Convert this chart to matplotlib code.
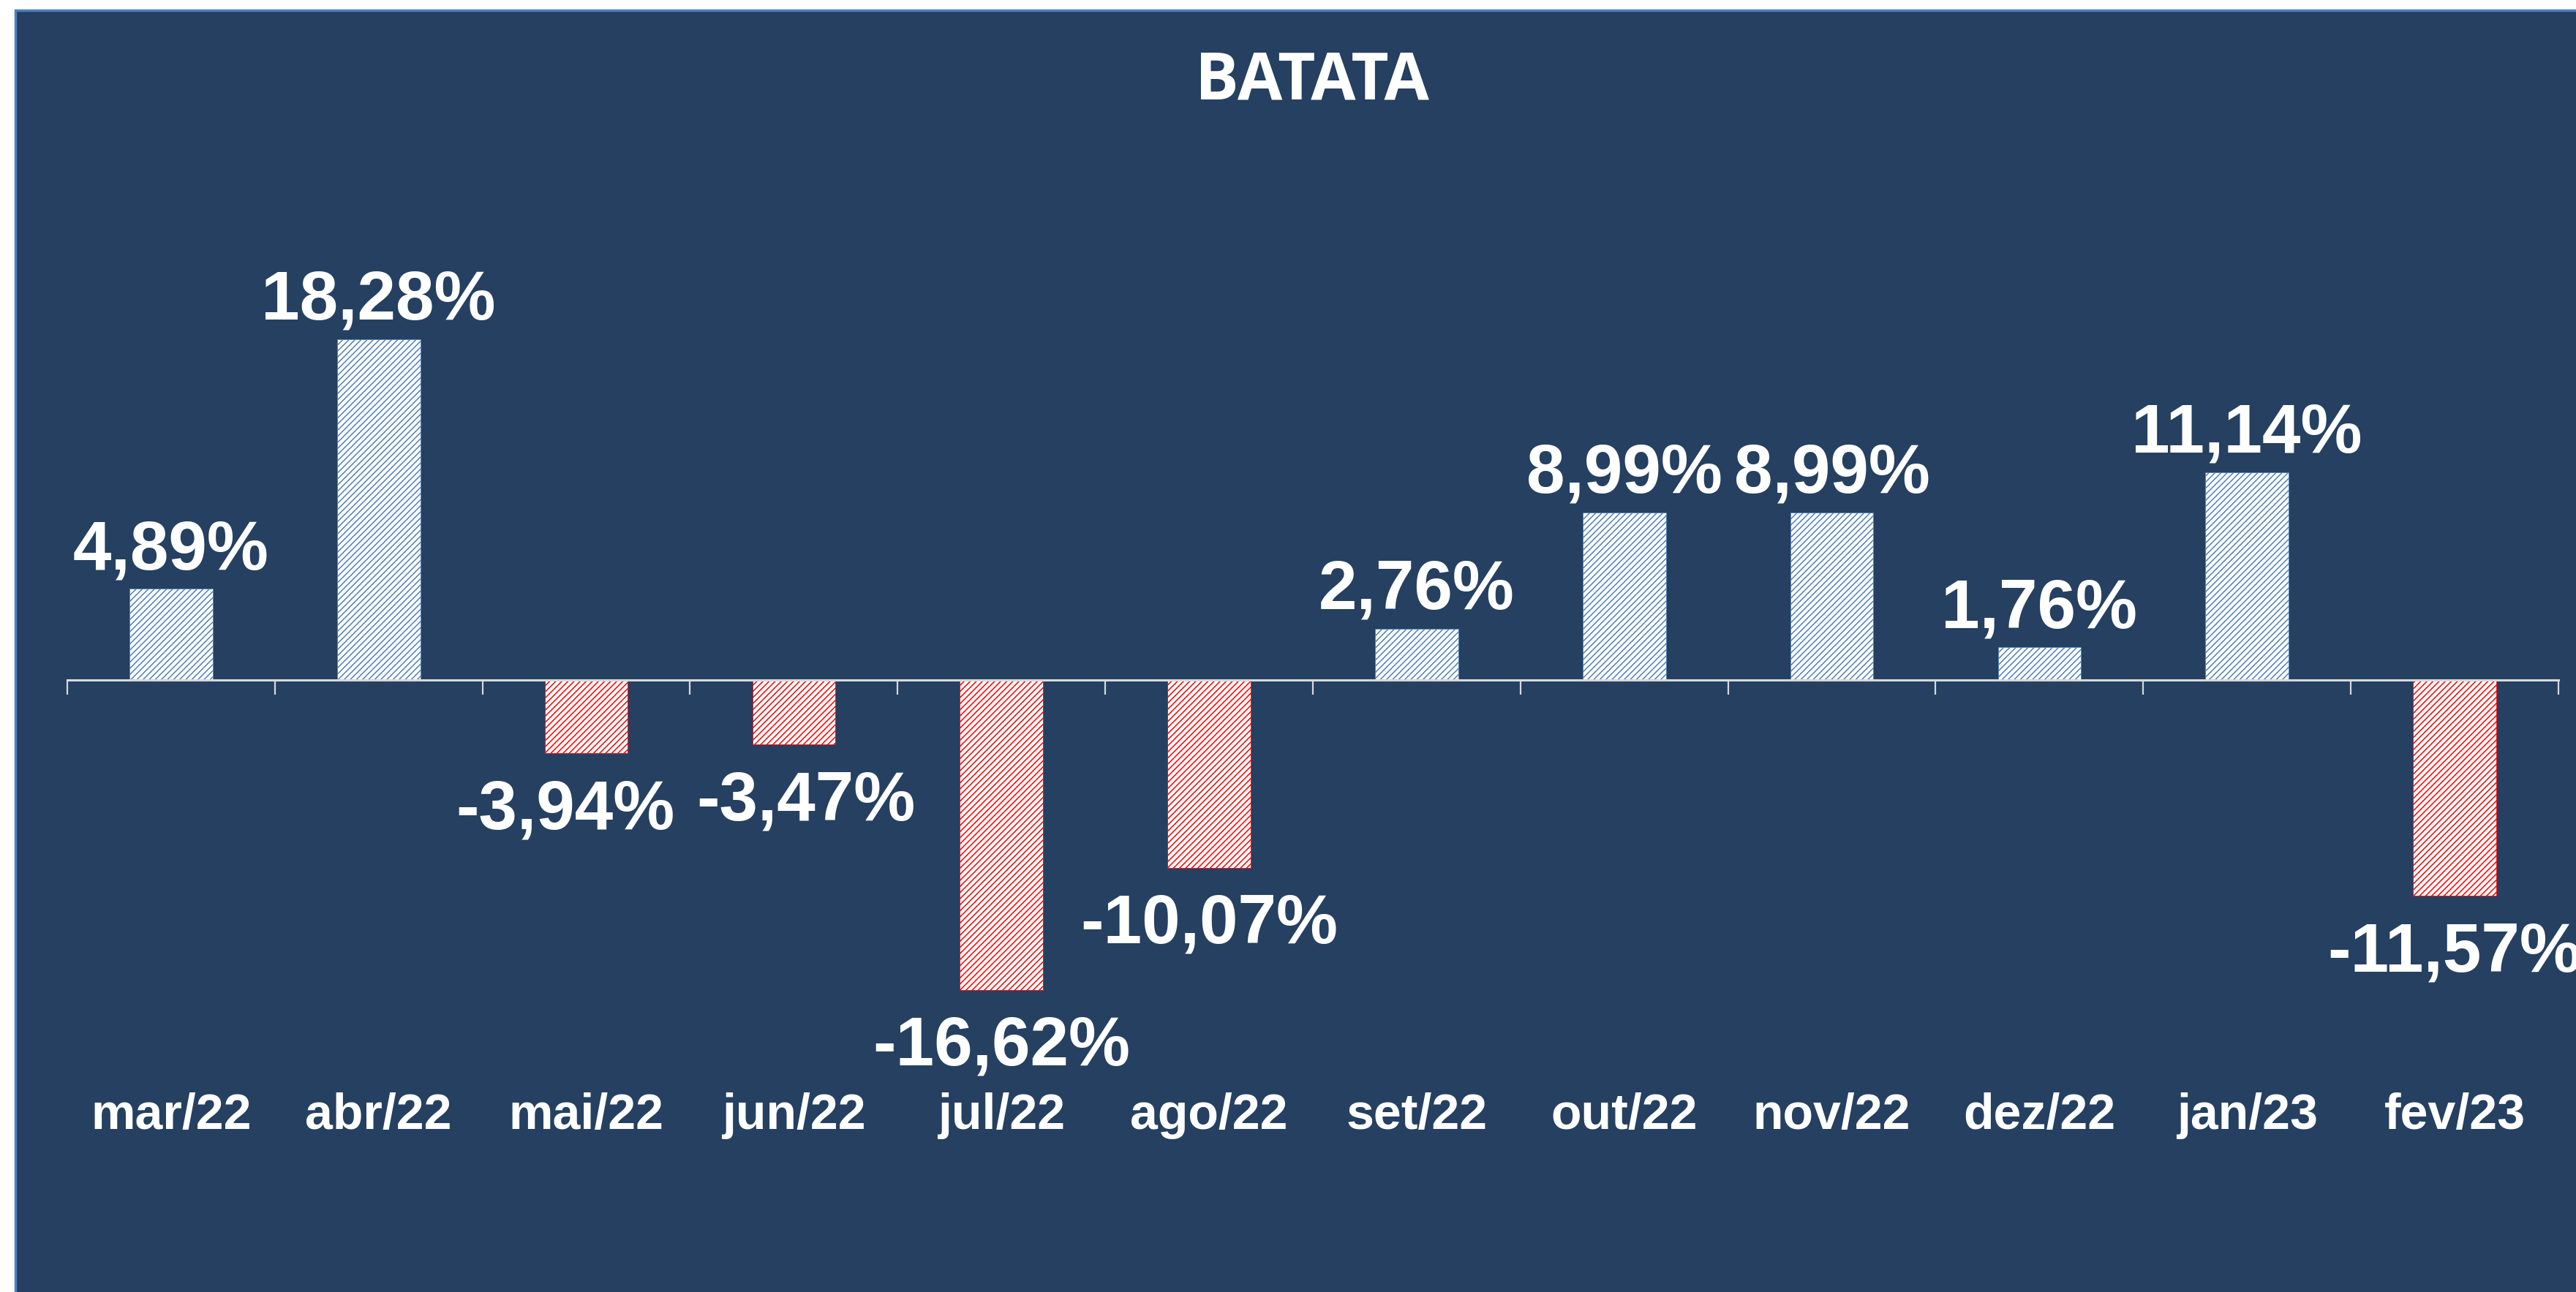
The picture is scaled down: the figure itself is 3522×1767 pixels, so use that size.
import matplotlib
matplotlib.use("Agg")
import matplotlib.pyplot as plt
from matplotlib.patches import Rectangle
from matplotlib.transforms import blended_transform_factory
import numpy as np

# ---- data ----
title = "BATATA"
categories = ["mar/22", "abr/22", "mai/22", "jun/22", "jul/22", "ago/22",
              "set/22", "out/22", "nov/22", "dez/22", "jan/23", "fev/23"]
values = [4.89, 18.28, -3.94, -3.47, -16.62, -10.07,
          2.76, 8.99, 8.99, 1.76, 11.14, -11.57]

W, H = 3523, 1767
DPI = 100
plt.rcParams['hatch.linewidth'] = 1.1

BG = '#254061'
BORDER = '#4F81BD'
POS_HATCH = '#4F81BD'
NEG_HATCH = '#FF0000'
AXIS_COL = '#D9D9D9'
LBL_FONT = ['Liberation Sans', 'DejaVu Sans']

fig = plt.figure(figsize=(W / DPI, H / DPI), dpi=DPI)
fig.patch.set_facecolor('white')

# dark panel
fig.patches.append(Rectangle((21 / W, -0.01), 1.05, 1 - 14 / H + 0.01,
                             transform=fig.transFigure, facecolor=BG,
                             edgecolor=BORDER, linewidth=2.5, zorder=-5))

ax_left = 92 / W
ax_w = 3406 / W
ax_bottom = 1 - 1440 / H
ax_h = 1020 / H
ax = fig.add_axes([ax_left, ax_bottom, ax_w, ax_h])
ax.set_zorder(1)
ax.set_facecolor('none')
ax.set_xlim(-0.5, len(categories) - 0.5)
ax.set_ylim(-20, 20)

x = np.arange(len(categories))
for xi, v in zip(x, values):
    col = POS_HATCH if v >= 0 else NEG_HATCH
    ax.bar(xi, v, width=0.40, color='white', edgecolor=col,
           hatch='////', linewidth=0.6, zorder=2)

# axis styling
for s in ['top', 'right', 'left']:
    ax.spines[s].set_visible(False)
ax.spines['bottom'].set_position(('data', 0))
ax.spines['bottom'].set_color(AXIS_COL)
ax.spines['bottom'].set_linewidth(2.2)
ax.spines['bottom'].set_zorder(3)
ax.set_xticks(np.arange(-0.5, len(categories), 1.0))
ax.set_xticklabels([])
ax.tick_params(axis='x', direction='out', length=14.5, width=1.6,
               color=AXIS_COL)
ax.set_yticks([])

# value labels (small horizontal nudges where labels would collide)
nudge_pt = {2: -21, 3: 12}
for i, (xi, v) in enumerate(zip(x, values)):
    txt = f"{v:.2f}%".replace('.', ',')
    dx = nudge_pt.get(i, 0)
    if v >= 0:
        ax.annotate(txt, (xi, v), xytext=(dx, 5), textcoords='offset points',
                    ha='center', va='bottom', fontsize=68, fontweight='bold',
                    color='white', family=LBL_FONT, annotation_clip=False)
    else:
        ax.annotate(txt, (xi, v), xytext=(dx, -24.5), textcoords='offset points',
                    ha='center', va='top', fontsize=68, fontweight='bold',
                    color='white', family=LBL_FONT, annotation_clip=False)

# category labels
trans = blended_transform_factory(ax.transData, fig.transFigure)
for xi, lab in zip(x, categories):
    ax.text(xi, 1 - 1544 / H, lab, transform=trans, ha='center', va='baseline',
            fontsize=49, fontweight='bold', color='white', family=LBL_FONT)

# title
fig.text(1794 / W, 1 - 135 / H, title, ha='center', va='baseline',
         fontsize=64, fontweight='bold', color='white',
         family=['Open Sans', 'Lato', 'DejaVu Sans'])

fig.savefig('out.png', dpi=DPI, facecolor=fig.get_facecolor())
